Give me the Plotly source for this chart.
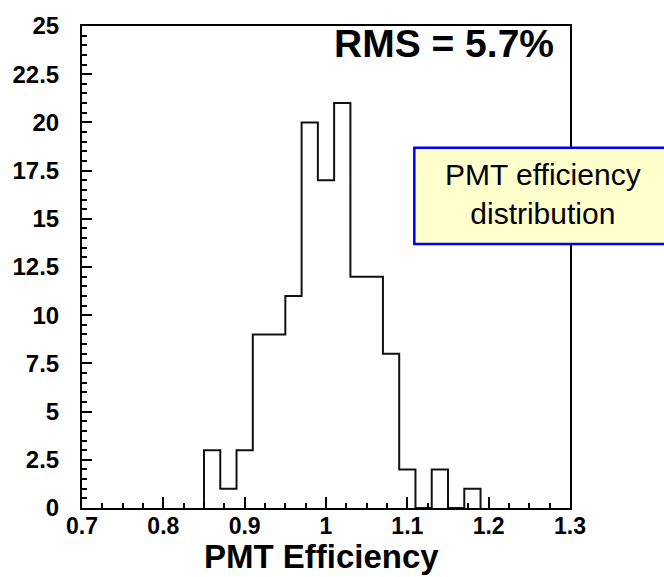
import plotly.graph_objects as go

# Histogram data (bin left edges, width 0.02) and counts
bin_edges = [0.85, 0.87, 0.89, 0.91, 0.93, 0.95, 0.97, 0.99, 1.01, 1.03,
             1.05, 1.07, 1.09, 1.11, 1.13, 1.15, 1.17, 1.19]
counts = [3, 1, 3, 9, 9, 11, 20, 17, 21, 12, 12, 8, 2, 0, 2, 0, 1]

x_ticks = [0.7, 0.8, 0.9, 1.0, 1.1, 1.2, 1.3]
x_tick_labels = ["0.7", "0.8", "0.9", "1", "1.1", "1.2", "1.3"]
y_ticks = [0, 2.5, 5, 7.5, 10, 12.5, 15, 17.5, 20, 22.5, 25]
y_tick_labels = ["0", "2.5", "5", "7.5", "10", "12.5", "15", "17.5", "20", "22.5", "25"]

W, H = 664, 577
L, R, T, B = 81, 570, 17, 508

def px(x):
    return (x - L) / (R - L)

def py(y):
    return (B - y) / (B - T)

# step outline
xs = [bin_edges[0]] + bin_edges
ys = [0] + counts + [0]

fig = go.Figure()
fig.add_trace(go.Scatter(x=xs, y=ys, mode="lines", line=dict(shape="hv", color="#111111", width=2),
                         hoverinfo="skip", showlegend=False))

font = "Liberation Sans"
fig.update_layout(
    width=W, height=H,
    margin=dict(l=L, r=W - R, t=T, b=H - B, pad=0),
    paper_bgcolor="white", plot_bgcolor="white",
    showlegend=False,
    xaxis=dict(range=[0.7, 1.3], tickvals=x_ticks, ticktext=x_tick_labels,
               ticks="inside", ticklen=11, tickwidth=1.5, tickcolor="black",
               minor=dict(dtick=0.025, tick0=0.7, ticks="inside", ticklen=5, tickwidth=1.5, tickcolor="black"),
               showline=True, linecolor="black", linewidth=2, mirror=True,
               showgrid=False, zeroline=False, ticklabelstandoff=-4,
               tickfont=dict(family=font, size=23, color="black", weight="bold")),
    yaxis=dict(range=[0, 25], tickvals=y_ticks, ticktext=y_tick_labels,
               ticks="inside", ticklen=10, tickwidth=1.5, tickcolor="black",
               minor=dict(dtick=0.5, tick0=0, ticks="inside", ticklen=5, tickwidth=1.5, tickcolor="black"),
               showline=True, linecolor="black", linewidth=2, mirror=True,
               showgrid=False, zeroline=False, ticklabelstandoff=16,
               tickfont=dict(family=font, size=24, color="black", weight="bold")),
    shapes=[dict(type="rect", xref="paper", yref="paper",
                 x0=px(414), x1=px(680), y0=py(239), y1=py(141),
                 fillcolor="#ffffcc", line=dict(color="#0000ff", width=2.5), layer="above")],
    annotations=[
        dict(text="RMS = 5.7%", xref="paper", yref="paper", x=px(556), y=py(35),
             xanchor="right", yanchor="middle", showarrow=False,
             font=dict(family=font, size=39, color="black", weight="bold")),
        dict(text="PMT efficiency<br>distribution", xref="paper", yref="paper", x=px(543), y=py(188),
             xanchor="center", yanchor="middle", showarrow=False, align="center",
             font=dict(family=font, size=30, color="black")),
        dict(text="PMT Efficiency", xref="paper", yref="paper", x=px(321), y=py(557),
             xanchor="center", yanchor="middle", showarrow=False,
             font=dict(family=font, size=33, color="black", weight="bold")),
    ],
)

fig.write_html("out.html")
